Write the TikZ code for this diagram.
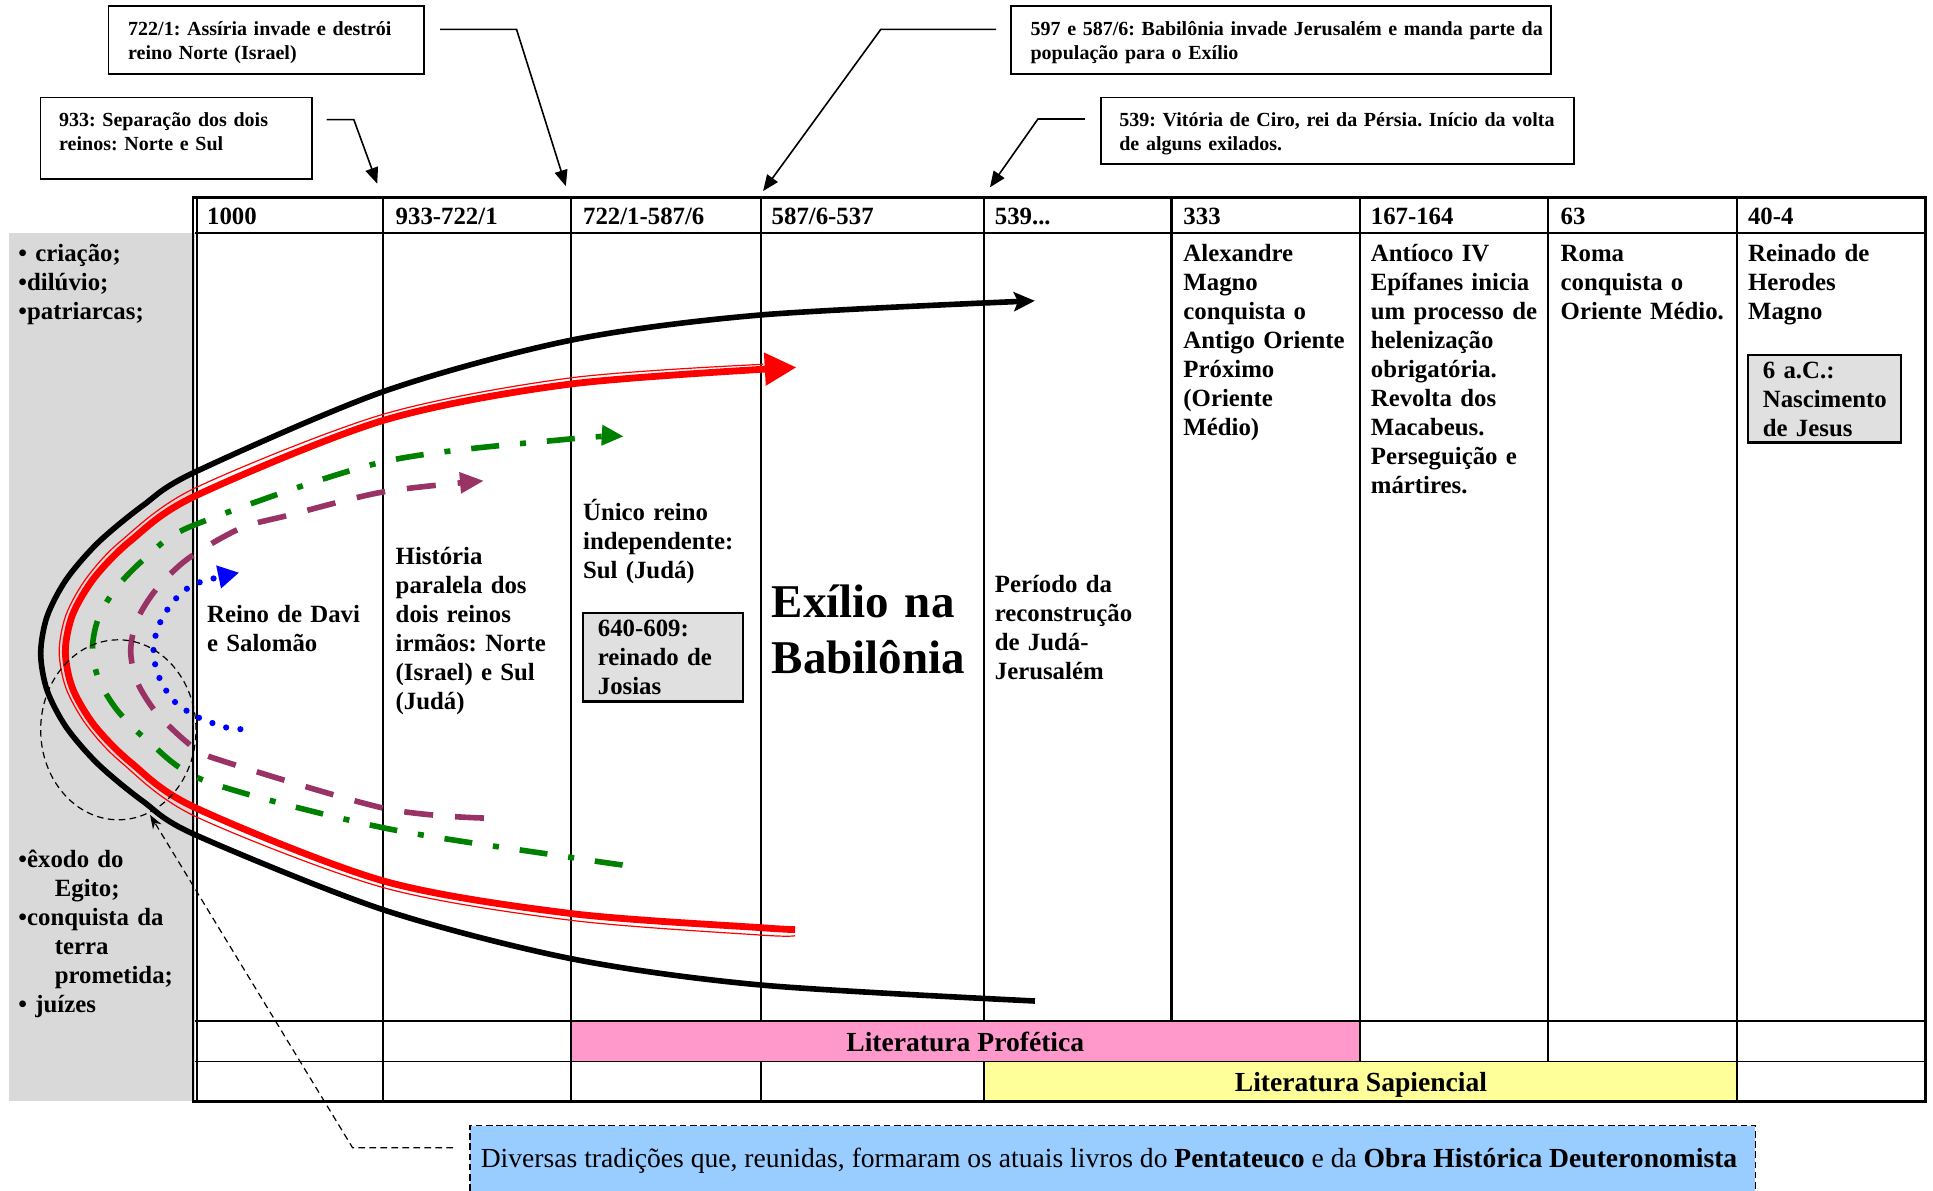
\documentclass[tikz,border=0pt]{standalone}
\usepackage{fontspec}
\setmainfont{Liberation Serif}
\usetikzlibrary{arrows.meta,shapes.geometric}
\definecolor{panelgray}{HTML}{D9D9D9}
\definecolor{boxgray}{HTML}{E0E0E0}
\definecolor{profpink}{HTML}{FF99CC}
\definecolor{sapyellow}{HTML}{FFFF99}
\definecolor{noteblue}{HTML}{99CCFF}
\definecolor{plum}{HTML}{993366}
\definecolor{dkgreen}{HTML}{008000}
\newcommand\uu{0.6164pt}
\frenchspacing
\begin{document}
\begin{tikzpicture}[x=0.6164pt,y=-0.6164pt,
  every node/.style={inner sep=0pt,outer sep=0pt},
  callbox/.style={draw=black,line width=0.8pt,fill=white,anchor=north west},
  graybox/.style={draw=black,line width=1.1pt,fill=boxgray,anchor=north west},
  ctext/.style={anchor=base west,align=left,text width=320pt,font=\fontsize{10}{11.7}\selectfont\bfseries},
  btext/.style={anchor=base west,align=left,text width=150pt,font=\fontsize{12.4}{14.5}\selectfont\bfseries},
  htext/.style={anchor=base west,font=\fontsize{12.4}{14.5}\selectfont\bfseries},
  littext/.style={anchor=base,font=\fontsize{13.8}{16}\selectfont\bfseries},
  gridline/.style={line width=0.9pt},
  outerline/.style={line width=1.3pt},
  pointer/.style={line width=0.8pt,-{Triangle[length=8pt,width=6.5pt]}},
  thinleader/.style={line width=0.6pt,dash pattern=on 3.3pt off 2.2pt},
]
\useasboundingbox (0,0) rectangle (1568,966);
% ---------- backgrounds
\fill[panelgray] (7,189) rectangle (158,893.5);
\fill[profpink] (463,828.5) rectangle (1103,861);
\fill[sapyellow] (798,861) rectangle (1409,893.5);
% ---------- table grid
\draw[gridline] (158,189) -- (1562,189);
\draw[gridline] (158,828.5) -- (1562,828.5);
\draw[gridline] (158,861) -- (1562,861);
\foreach \c in {311,463,617,798,1103,1256,1409}
  \draw[gridline] (\c,160) -- (\c,828.5);
\draw[line width=1.6pt] (950,160) -- (950,828.5);
\foreach \c in {311,463,1103,1256,1409}
  \draw[gridline] (\c,828.5) -- (\c,861);
\foreach \c in {311,463,617,798,1409}
  \draw[gridline] (\c,861) -- (\c,893.5);
\draw[outerline] (156,160) -- (1562,160) -- (1562,893.5) -- (156,893.5);
\draw[line width=0.6pt] (156.5,160) -- (156.5,893.5);
\draw[line width=0.6pt] (159.8,160) -- (159.8,893.5);
% ---------- header texts
\node[htext] (h1) at (168,182) {1000};
\node[htext] (h2) at (321,182) {933-722/1};
\node[htext] (h3) at (473,182) {722/1-587/6};
\node[htext] (h4) at (626,182) {587/6-537};
\node[htext] (h5) at (807,182) {539...};
\node[htext] (h6) at (960,182) {333};
\node[htext] (h7) at (1112,182) {167-164};
\node[htext] (h8) at (1266,182) {63};
\node[htext] (h9) at (1418,182) {40-4};
% ---------- body texts
\node[btext] (lefttop) at (15,212) {• criação;\\•dilúvio;\\•patriarcas;};
\node[btext] (leftbot) at (15,704) {•êxodo do\\\hspace*{18.2pt}Egito;\\•conquista da\\\hspace*{18.2pt}terra\\\hspace*{18.2pt}prometida;\\• juízes};
\node[btext] (davi) at (168,505) {Reino de Davi\\e Salomão};
\node[btext] (hist) at (321,458) {História\\paralela dos\\dois reinos\\irmãos: Norte\\(Israel) e Sul\\(Judá)};
\node[btext] (unico) at (473,422) {Único reino\\independente:\\Sul (Judá)};
\node[graybox,minimum width={130*\uu},minimum height={72*\uu}] (josiasbox) at (473,497) {};
\node[btext] (josias) at (485,516) {640-609:\\reinado de\\Josias};
\node[anchor=base west,align=left,text width=200pt,font=\fontsize{23.5}{27.7}\selectfont\bfseries] (exilio) at (626,501) {Exílio na\\Babilônia};
\node[btext] (periodo) at (807,481) {Período da\\reconstrução\\de Judá-\\Jerusalém};
\node[btext] (alex) at (960,212) {Alexandre\\Magno\\conquista o\\Antigo Oriente\\Próximo\\(Oriente\\Médio)};
\node[btext] (antioco) at (1112,212) {Antíoco IV\\Epífanes inicia\\um processo de\\helenização\\obrigatória.\\Revolta dos\\Macabeus.\\Perseguição e\\mártires.};
\node[btext] (roma) at (1266,212) {Roma\\conquista o\\Oriente Médio.};
\node[btext] (herodes) at (1418,212) {Reinado de\\Herodes\\Magno};
\node[graybox,minimum width={124*\uu},minimum height={71*\uu}] (jesusbox) at (1418,288) {};
\node[btext] (jesus) at (1430,307) {6 a.C.:\\Nascimento\\de Jesus};
\node[littext] (prof) at (783,853) {Literatura Profética};
\node[littext] (sap) at (1104,885) {Literatura Sapiencial};
% ---------- curves
\draw[line width=2.8pt,-{Stealth[length=10.5pt,width=9.5pt,inset=2pt]}] plot[smooth] coordinates {(839.5,812) (617,799) (463,777.6) (311,738) (158,677) (116,650) (79.7,620) (53.8,590) (38.2,560) (33,530) (38.2,500) (53.8,470) (79.7,440) (116,410) (158,383) (311,317.6) (463,276) (617,255.5) (839.5,244)};
\draw[red,line width=0.6pt] plot[smooth] coordinates {(645,759) (617,758.5) (463,746.5) (311,720) (158,662) (98.4,618.5) (70.4,588.5) (53.6,558.5) (48,528.5) (53.6,498.5) (70.4,468.5) (98.4,438.5) (158,396) (311,336) (463,306.5) (619,295.5)};
\draw[red,line width=3.4pt,-{Triangle[length=15.8pt,width=15.7pt]}] plot[smooth] coordinates {(645,754) (617,752.5) (463,741) (311,714.6) (158,655) (106.1,618.5) (76.6,588.5) (58.9,558.5) (53,528.5) (58.9,498.5) (76.6,468.5) (106.1,438.5) (158,402.5) (311,341) (463,311.5) (646,298)};
\draw[dkgreen,line width=2.8pt,dash pattern=on 14pt off 10.5pt on 3pt off 10.5pt,-{Triangle[length=11pt,width=9.7pt]}] plot[smooth] coordinates {(505,701.7) (463,695.5) (311,671.5) (168,634) (120,601) (95,576) (80,551) (75,526) (80,501) (95,476) (120,451) (158,425.7) (311,374.6) (463,356) (506,354)};
\draw[plum,line width=2.8pt,dash pattern=on 14.5pt off 11pt,-{Triangle[length=12pt,width=10pt]}] plot[smooth] coordinates {(392.6,663.6) (311,655.5) (173.6,615) (152.7,603) (126.75,578) (111.2,553) (106,528) (111.2,503) (126.75,478) (152.7,453) (195,428.6) (234,418) (311,399) (392.6,390)};
\draw[blue,line width=3.1pt,line cap=round,dash pattern=on 0pt off 7.2pt,-{Triangle[length=10.5pt,width=11pt]}] plot[smooth] coordinates {(195,591.5) (183,590) (159.5,581.3) (140.5,568) (128.5,548) (124.5,528) (128.5,508) (140.5,488) (158.2,473.7) (194,464.5)};
% ---------- dashed ellipse and leader
\node[draw,thinleader,ellipse,minimum width={126*\uu},minimum height={146*\uu}] (origins) at (96,592) {};
\coordinate (exodo) at (121.7,661);
\coordinate (bend) at (286,931);
\coordinate (noteend) at (367.5,931);
\draw[thinleader,-{Stealth[length=7pt,width=5pt]}] (noteend) -- (bend) -- (exodo);
% ---------- bottom note
\fill[noteblue] (381,913) rectangle (1424,966);
\draw[line width=0.9pt,dash pattern=on 3.3pt off 1.8pt] (381,966) -- (381,913) -- (1424,913) -- (1424,966);
\node[anchor=base west,font=\fontsize{13.8}{16}\selectfont] (note) at (390,947) {Diversas tradições que, reunidas, formaram os atuais livros do \textbf{Pentateuco} e da \textbf{Obra Histórica Deuteronomista}};
% ---------- callouts
\node[callbox,minimum width={256*\uu},minimum height={55*\uu}] (b722) at (88,5) {};
\node[ctext] (t722) at (104,29) {722/1: Assíria invade e destrói\\reino Norte (Israel)};
\node[callbox,minimum width={220*\uu},minimum height={66*\uu}] (b933) at (33,79) {};
\node[ctext] (t933) at (48,103) {933: Separação dos dois\\reinos: Norte e Sul};
\node[callbox,minimum width={438*\uu},minimum height={55*\uu}] (b597) at (820,5) {};
\node[ctext] (t597) at (836,29) {597 e 587/6: Babilônia invade Jerusalém e manda parte da\\população para o Exílio};
\node[callbox,minimum width={384*\uu},minimum height={54*\uu}] (b539) at (893,79) {};
\node[ctext] (t539) at (908,103) {539: Vitória de Ciro, rei da Pérsia. Início da volta\\de alguns exilados.};
\coordinate (s933) at (265,97);  \coordinate (k933) at (287,97);  \coordinate (e933) at (306,149);
\coordinate (s722) at (357,23.8); \coordinate (k722) at (419,23.8); \coordinate (e722) at (459,151);
\coordinate (s597) at (808,23.8); \coordinate (k597) at (714.5,23.8); \coordinate (e597) at (619,155);
\coordinate (s539) at (880,96.5); \coordinate (k539) at (842,96.5); \coordinate (e539) at (803,152);
\draw[pointer] (s933) -- (k933) -- (e933);
\draw[pointer] (s722) -- (k722) -- (e722);
\draw[pointer] (s597) -- (k597) -- (e597);
\draw[pointer] (s539) -- (k539) -- (e539);
\end{tikzpicture}
\end{document}
